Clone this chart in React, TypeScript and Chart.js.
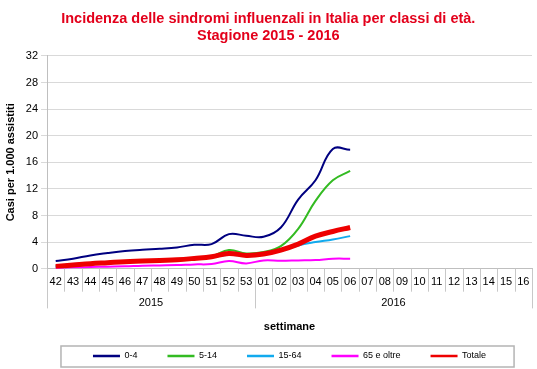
import React, { useEffect, useRef } from "react";
import { Chart, registerables } from "chart.js";

Chart.register(...registerables);

const TITLE_LINES = [
  "Incidenza delle sindromi influenzali in Italia per classi di età.",
  "Stagione 2015 - 2016",
];
const Y_TITLE = "Casi per 1.000 assistiti";
const X_TITLE = "settimane";

const WEEKS_2015 = ["42", "43", "44", "45", "46", "47", "48", "49", "50", "51", "52", "53"];
const WEEKS_2016 = ["01", "02", "03", "04", "05", "06", "07", "08", "09", "10", "11", "12", "13", "14", "15", "16"];
const YEARS = ["2015", "2016"];
const WEEK_LABELS = [...WEEKS_2015, ...WEEKS_2016];

const SERIES_NAMES = ["0-4", "5-14", "15-64", "65 e oltre", "Totale"];
const SERIES_COLORS = ["#000080", "#33bb22", "#11aaee", "#ff00ff", "#ee0000"];

const AGE_0_4 = [1.15, 1.5, 2.0, 2.35, 2.65, 2.85, 3.0, 3.2, 3.6, 3.7, 5.2, 4.95, 4.8, 6.2, 10.4, 13.3, 18.0, 17.9];
const AGE_5_14 = [0.4, 0.6, 0.8, 0.95, 1.1, 1.2, 1.3, 1.4, 1.6, 1.85, 2.8, 2.3, 2.5, 3.4, 6.0, 10.2, 13.3, 14.7];
const AGE_15_64 = [0.3, 0.5, 0.7, 0.85, 1.0, 1.1, 1.2, 1.3, 1.5, 1.7, 2.1, 1.9, 2.1, 2.7, 3.5, 4.0, 4.4, 4.9];
const AGE_65 = [0.1, 0.2, 0.25, 0.3, 0.35, 0.45, 0.5, 0.55, 0.65, 0.7, 1.15, 0.8, 1.25, 1.2, 1.25, 1.3, 1.5, 1.5];
const TOTALE = [0.35, 0.55, 0.75, 0.9, 1.05, 1.15, 1.25, 1.35, 1.55, 1.8, 2.3, 2.0, 2.2, 2.8, 3.7, 4.9, 5.6, 6.2];

const SERIES_DATA = [AGE_0_4, AGE_5_14, AGE_15_64, AGE_65, TOTALE];
const SERIES_WIDTHS = [2, 2, 2, 2, 5];

const Y_MAX = 32;
const Y_STEP = 4;

const FONT = "Arial, 'Liberation Sans', Helvetica, sans-serif";

// year groups on the category index scale
const yearGroups = (() => {
  const groups: { label: string; start: number; end: number }[] = [];
  let s = -0.5;
  [WEEKS_2015, WEEKS_2016].forEach((w, i) => {
    groups.push({ label: YEARS[i], start: s, end: s + w.length });
    s += w.length;
  });
  return groups;
})();
const yearBoundaries = [yearGroups[0].start, ...yearGroups.map((g) => g.end)];
const yearCentres = yearGroups.map((g) => (g.start + g.end) / 2);

// separators of the two-level category axis
const separatorsPlugin = {
  id: "separators",
  afterDraw(chart: any) {
    const xs = chart.scales.x;
    const x2 = chart.scales.x2;
    if (!xs || !x2) return;
    const ctx = chart.ctx;
    ctx.save();
    ctx.strokeStyle = "#c8c8c8";
    ctx.lineWidth = 1;
    const top = xs.top;
    const weekBottom = xs.top + 23;
    const yearBottom = x2.top + 12.5;
    for (let i = 0; i <= WEEK_LABELS.length; i++) {
      const v = i - 0.5;
      const px = Math.round(xs.getPixelForValue(v)) + 0.5;
      const isYear = yearBoundaries.includes(v);
      ctx.beginPath();
      ctx.moveTo(px, top);
      ctx.lineTo(px, isYear ? yearBottom : weekBottom);
      ctx.stroke();
    }
    ctx.restore();
  },
};

const legendBoxPlugin = {
  id: "legendBox",
  afterDraw(chart: any) {
    const lg = chart.legend;
    if (!lg || !lg.legendHitBoxes || !lg.legendHitBoxes.length) return;
    const hb = lg.legendHitBoxes;
    const first = hb[0];
    const last = hb[hb.length - 1];
    const left = first.left - 32;
    const right = last.left + last.width + 28;
    const top = first.top - 5.5;
    const bottom = first.top + first.height + 6.5;
    const ctx = chart.ctx;
    ctx.save();
    ctx.strokeStyle = "#b4b4b4";
    ctx.lineWidth = 1.5;
    ctx.strokeRect(left, top, right - left, bottom - top);
    ctx.restore();
  },
};

export default function App() {
  const ref = useRef<HTMLCanvasElement | null>(null);

  useEffect(() => {
    if (!ref.current) return;
    const chart = new Chart(ref.current, {
      type: "line",
      data: {
        labels: WEEK_LABELS,
        datasets: SERIES_NAMES.map((name, i) => ({
          label: name,
          data: SERIES_DATA[i],
          borderColor: SERIES_COLORS[i],
          backgroundColor: SERIES_COLORS[i],
          borderWidth: SERIES_WIDTHS[i],
          pointRadius: 0,
          pointHoverRadius: 0,
          tension: 0.4,
          fill: false,
          xAxisID: "x",
          yAxisID: "y",
          order: i === SERIES_NAMES.length - 1 ? 0 : SERIES_NAMES.length - i,
        })),
      },
      options: {
        responsive: false,
        animation: false,
        layout: { padding: { left: 4.6, right: 5, top: 0, bottom: -1.5 } },
        plugins: {
          tooltip: { enabled: false },
          title: {
            display: true,
            text: TITLE_LINES,
            color: "#e3001b",
            font: { family: FONT, size: 14.5, weight: "bold", lineHeight: 1.15 },
            padding: { top: 11, bottom: 11.6 },
          },
          legend: {
            position: "bottom",
            fullSize: false,
            labels: {
              usePointStyle: true,
              pointStyle: "line",
              pointStyleWidth: 27,
              color: "#000",
              font: { family: FONT, size: 9 },
              padding: 30,
              generateLabels: (c: any) =>
                c.data.datasets.map((ds: any, i: number) => ({
                  text: ds.label,
                  strokeStyle: ds.borderColor,
                  fillStyle: ds.borderColor,
                  fontColor: "#000",
                  lineWidth: 2.5,
                  pointStyle: "line",
                  hidden: false,
                  datasetIndex: i,
                })),
            },
          },
        },
        scales: {
          x: {
            type: "category",
            position: "bottom",
            offset: true,
            grid: { display: false, drawTicks: false, drawOnChartArea: false },
            border: { color: "#bfbfbf" },
            ticks: {
              color: "#000",
              font: { family: FONT, size: 11 },
              padding: 7,
              autoSkip: false,
              maxRotation: 0,
            },
          },
          x2: {
            type: "linear",
            position: "bottom",
            min: yearBoundaries[0],
            max: yearBoundaries[yearBoundaries.length - 1],
            afterBuildTicks: (s: any) => {
              s.ticks = yearCentres.map((v) => ({ value: v }));
            },
            grid: { display: false, drawTicks: false, drawOnChartArea: false },
            border: { display: false },
            ticks: {
              color: "#000",
              font: { family: FONT, size: 11 },
              padding: 0,
              autoSkip: false,
              maxRotation: 0,
              callback: (v: any) => {
                const k = yearCentres.indexOf(Number(v));
                return k >= 0 ? yearGroups[k].label : "";
              },
            },
            title: {
              display: true,
              text: X_TITLE,
              color: "#000",
              font: { family: FONT, size: 11, weight: "bold" },
              padding: { top: 11, bottom: -11.8 },
            },
          },
          y: {
            min: 0,
            max: Y_MAX,
            ticks: {
              stepSize: Y_STEP,
              color: "#000",
              font: { family: FONT, size: 11 },
              padding: 3,
            },
            grid: { color: "#d9d9d9", tickLength: 6 },
            border: { color: "#bfbfbf" },
            title: {
              display: true,
              text: Y_TITLE,
              color: "#000",
              font: { family: FONT, size: 11, weight: "bold" },
              padding: { top: 0, bottom: 5 },
            },
          },
        },
      },
      plugins: [separatorsPlugin, legendBoxPlugin],
    } as any);
    return () => chart.destroy();
  }, []);

  return (
    <div style={{ position: "absolute", left: 0, top: 0, width: 537, height: 369, background: "#fff" }}>
      <canvas ref={ref} width={537} height={369} style={{ display: "block" }} />
    </div>
  );
}
